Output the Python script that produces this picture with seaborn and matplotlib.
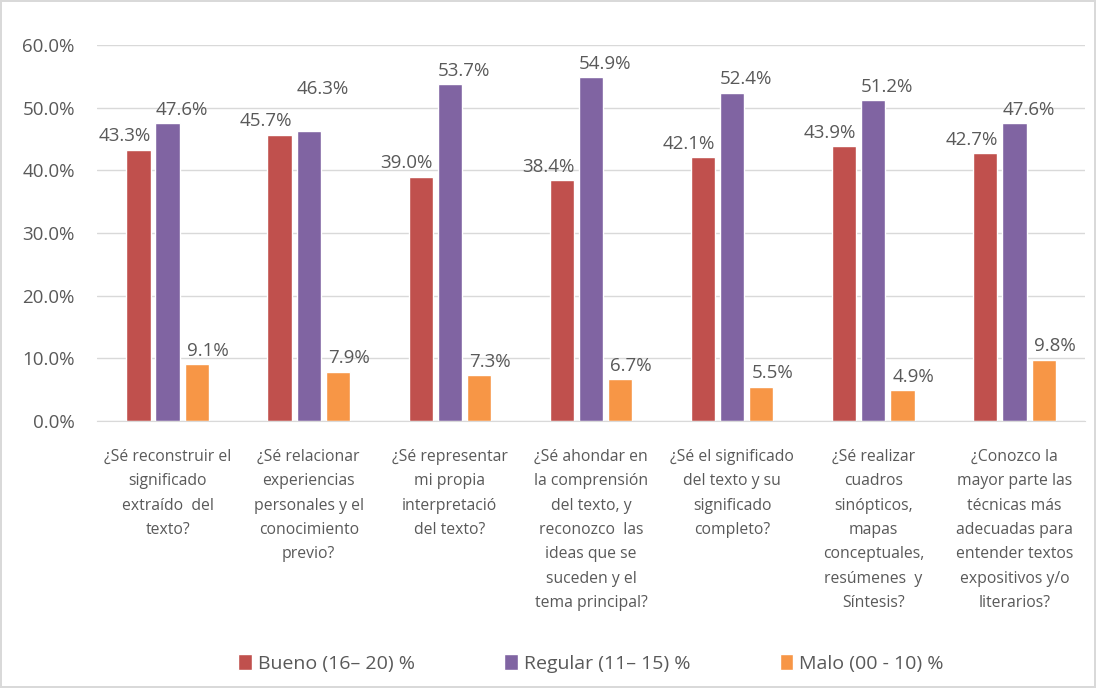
import pandas as pd
import matplotlib.pyplot as plt
import seaborn as sns

# data
preguntas = [
    "¿Sé reconstruir el\nsignificado\nextraído  del\ntexto?",
    "¿Sé relacionar\nexperiencias\npersonales y el\nconocimiento\nprevio?",
    "¿Sé representar\nmi propia\ninterpretació\ndel texto?",
    "¿Sé ahondar en\nla comprensión\ndel texto, y\nreconozco  las\nideas que se\nsuceden y el\ntema principal?",
    "¿Sé el significado\ndel texto y su\nsignificado\ncompleto?",
    "¿Sé realizar\ncuadros\nsinópticos,\nmapas\nconceptuales,\nresúmenes  y\nSíntesis?",
    "¿Conozco la\nmayor parte las\ntécnicas más\nadecuadas para\nentender textos\nexpositivos y/o\nliterarios?",
]
bueno = [43.3, 45.7, 39.0, 38.4, 42.1, 43.9, 42.7]
regular = [47.6, 46.3, 53.7, 54.9, 52.4, 51.2, 47.6]
malo = [9.1, 7.9, 7.3, 6.7, 5.5, 4.9, 9.8]
series = ["Bueno (16– 20) %", "Regular (11– 15) %", "Malo (00 - 10) %"]
colores = ["#C0504D", "#8064A2", "#F79646"]

rows = []
for nombre, vals in zip(series, [bueno, regular, malo]):
    for p, v in zip(preguntas, vals):
        rows.append({"pregunta": p, "serie": nombre, "valor": v})
df = pd.DataFrame(rows)

sns.set_style("white")
plt.rcParams["font.family"] = ["Open Sans", "DejaVu Sans"]
gris = "#595959"

fig = plt.figure(figsize=(10.96, 6.88), dpi=100, linewidth=1.5, edgecolor="#D9D9D9")
ax = fig.add_axes([0.0885, 0.388, 0.9015, 0.5466])

sns.barplot(data=df, x="pregunta", y="valor", hue="serie", palette=colores,
            width=0.62, gap=0.17, saturation=1, ax=ax, legend=True)

# value labels, shifted a bit sideways like the original
dxs = [-10, 10, 8]
for k, cont in enumerate(ax.containers):
    for i, bar in enumerate(cont):
        h = bar.get_height()
        dy = 3
        if k == 1 and abs(regular[i] - bueno[i]) < 2:
            dy = 24
        ax.annotate("%.1f%%" % h, (bar.get_x() + bar.get_width() / 2, h),
                    xytext=(dxs[k], dy), textcoords="offset points",
                    ha="center", va="bottom", fontsize=13.5, color=gris)

ax.set_ylim(0, 60)
ax.set_yticks(range(0, 61, 10))
ax.set_yticklabels(["%.1f%%" % t for t in range(0, 61, 10)], fontsize=13.5, color=gris)
ax.yaxis.grid(True, color="#D9D9D9", linewidth=1)
ax.set_axisbelow(True)
ax.tick_params(axis="y", length=0, pad=16)
ax.tick_params(axis="x", length=0, pad=20)
ax.set_xticks(range(len(preguntas)))
ax.set_xticklabels(preguntas, fontsize=11.3, color=gris, linespacing=1.7, va="top")
ax.set_xlabel("")
ax.set_ylabel("")
for s in ["top", "right", "left"]:
    ax.spines[s].set_visible(False)
ax.spines["bottom"].set_color("#D9D9D9")

ax.legend(loc="center", bbox_to_anchor=(0.5, -0.645), ncol=3, frameon=False,
          fontsize=14, labelcolor=gris, handlelength=0.7, handleheight=0.9,
          handletextpad=0.3, columnspacing=4.6)

plt.savefig("out.png", dpi=100)
